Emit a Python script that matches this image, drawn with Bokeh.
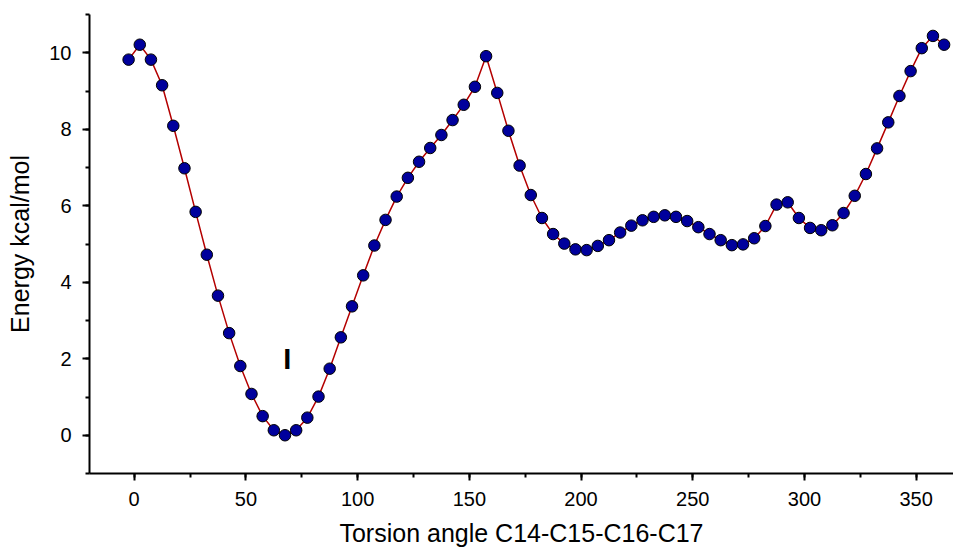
from bokeh.plotting import figure
from bokeh.models import Range1d, SingleIntervalTicker
from bokeh.core.properties import value
from bokeh.embed import file_html
from bokeh.resources import INLINE

# Torsion angle (degrees)
angle = [-2.5, 2.5, 7.5, 12.5, 17.5, 22.5, 27.5, 32.5, 37.5, 42.5,
         47.5, 52.5, 57.5, 62.5, 67.5, 72.5, 77.5, 82.5, 87.5, 92.5,
         97.5, 102.5, 107.5, 112.5, 117.5, 122.5, 127.5, 132.5, 137.5, 142.5,
         147.5, 152.5, 157.5, 162.5, 167.5, 172.5, 177.5, 182.5, 187.5, 192.5,
         197.5, 202.5, 207.5, 212.5, 217.5, 222.5, 227.5, 232.5, 237.5, 242.5,
         247.5, 252.5, 257.5, 262.5, 267.5, 272.5, 277.5, 282.5, 287.5, 292.5,
         297.5, 302.5, 307.5, 312.5, 317.5, 322.5, 327.5, 332.5, 337.5, 342.5,
         347.5, 352.5, 357.5, 362.5]

# Energy (kcal/mol)
energy = [9.82, 10.21, 9.82, 9.15, 8.09, 6.98, 5.84, 4.72, 3.65, 2.67,
          1.81, 1.08, 0.50, 0.13, 0.00, 0.13, 0.46, 1.01, 1.74, 2.56,
          3.37, 4.18, 4.96, 5.63, 6.24, 6.73, 7.15, 7.51, 7.85, 8.24,
          8.64, 9.11, 9.91, 8.95, 7.96, 7.05, 6.28, 5.68, 5.26, 5.01,
          4.86, 4.84, 4.95, 5.10, 5.30, 5.48, 5.62, 5.71, 5.75, 5.71,
          5.60, 5.44, 5.26, 5.10, 4.97, 4.99, 5.15, 5.47, 6.03, 6.09,
          5.68, 5.42, 5.36, 5.49, 5.81, 6.26, 6.83, 7.50, 8.18, 8.87,
          9.52, 10.12, 10.44, 10.21]

label_text = ["I"]
label_x = [68.5]
label_y = [2.0]

x_title = "Torsion angle C14-C15-C16-C17"
y_title = "Energy kcal/mol"

FONT = "Liberation Sans"

p = figure(width=953, height=549, output_backend="svg", toolbar_location=None,
           x_range=Range1d(-20, 366.7), y_range=Range1d(-1, 11),
           min_border_left=89, min_border_top=14, min_border_right=0,
           min_border_bottom=76)
p.outline_line_color = None
p.xgrid.visible = False
p.ygrid.visible = False
p.background_fill_color = "white"
p.border_fill_color = "white"

p.xaxis.ticker = SingleIntervalTicker(interval=50, num_minor_ticks=2)
p.yaxis.ticker = SingleIntervalTicker(interval=2, num_minor_ticks=2)

for ax in (p.xaxis, p.yaxis):
    ax.axis_line_width = 2
    ax.axis_line_color = "black"
    ax.major_tick_line_width = 2
    ax.minor_tick_line_width = 2
    ax.major_tick_line_color = "black"
    ax.minor_tick_line_color = "black"
    ax.major_tick_in = 0
    ax.major_tick_out = 7
    ax.minor_tick_in = 0
    ax.minor_tick_out = 4
    ax.major_label_text_font = FONT
    ax.major_label_text_font_size = "20px"
    ax.major_label_text_color = "black"
    ax.axis_label_text_font = FONT
    ax.axis_label_text_font_size = "25px"
    ax.axis_label_text_font_style = "normal"
    ax.axis_label_text_color = "black"

p.xaxis.axis_label = x_title
p.yaxis.axis_label = y_title
p.xaxis.major_label_standoff = 11
p.xaxis.axis_label_standoff = 10
p.yaxis.major_label_standoff = 11
p.yaxis.axis_label_standoff = 12

p.line(angle, energy, line_color="#B40000", line_width=1.5)
p.scatter(angle, energy, size=11.5, fill_color="#00009C", line_color="black",
          line_width=1)

p.text(x=label_x, y=label_y, text=label_text, text_font=value(FONT),
       text_font_size="29px", text_font_style="bold", text_color="black",
       text_align="center", text_baseline="middle")

open("out.html", "w").write(file_html(p, INLINE))
